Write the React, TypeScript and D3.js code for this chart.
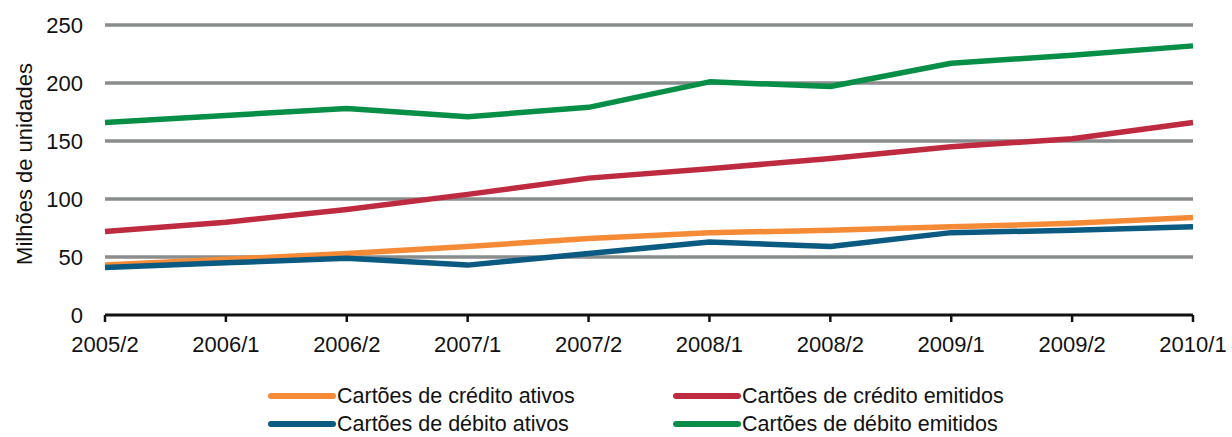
import React, { useEffect, useRef } from "react";
import * as d3 from "d3";

const periods = ["2005/2", "2006/1", "2006/2", "2007/1", "2007/2", "2008/1", "2008/2", "2009/1", "2009/2", "2010/1"];
const yTicks = [0, 50, 100, 150, 200, 250];

const creditoAtivos = [43, 48, 53, 59, 66, 71, 73, 76, 79, 84];
const creditoEmitidos = [72, 80, 91, 104, 118, 126, 135, 145, 152, 166];
const debitoAtivos = [41, 45, 49, 43, 53, 63, 59, 71, 73, 76];
const debitoEmitidos = [166, 172, 178, 171, 179, 201, 197, 217, 224, 232];

const series = [
  { name: "Cartões de crédito ativos", values: creditoAtivos, color: "#f58b37" },
  { name: "Cartões de crédito emitidos", values: creditoEmitidos, color: "#be2b40" },
  { name: "Cartões de débito ativos", values: debitoAtivos, color: "#0a5a82" },
  { name: "Cartões de débito emitidos", values: debitoEmitidos, color: "#078f47" },
];

const App = () => {
  const ref = useRef<SVGSVGElement>(null);

  useEffect(() => {
    const svg = d3.select(ref.current);
    svg.selectAll("*").remove();

    const font = "'Liberation Sans', Arial, sans-serif";
    const left = 105, right = 1193, top = 25, bottom = 315;

    const x = d3.scalePoint().domain(periods).range([left, right]);
    const y = d3.scaleLinear().domain([0, 250]).range([bottom, top]);

    // grid
    svg.append("g")
      .selectAll("line")
      .data(yTicks.filter(d => d > 0))
      .join("line")
      .attr("x1", left)
      .attr("x2", right)
      .attr("y1", d => y(d))
      .attr("y2", d => y(d))
      .attr("stroke", "#8a8d8d")
      .attr("stroke-width", 3.5);

    // y tick labels
    svg.append("g")
      .selectAll("text")
      .data(yTicks)
      .join("text")
      .attr("x", 83)
      .attr("y", d => y(d))
      .attr("dy", "0.36em")
      .attr("text-anchor", "end")
      .style("font-family", font)
      .style("font-size", "22px")
      .attr("fill", "#111")
      .text(d => d);

    // x axis
    const xAxis = svg.append("g");
    xAxis.append("line")
      .attr("x1", left)
      .attr("x2", right)
      .attr("y1", bottom)
      .attr("y2", bottom)
      .attr("stroke", "#111")
      .attr("stroke-width", 3);
    xAxis.selectAll("line.tick")
      .data(periods)
      .join("line")
      .attr("class", "tick")
      .attr("x1", d => x(d))
      .attr("x2", d => x(d))
      .attr("y1", bottom)
      .attr("y2", bottom + 7)
      .attr("stroke", "#111")
      .attr("stroke-width", 2.5);
    xAxis.selectAll("text")
      .data(periods)
      .join("text")
      .attr("x", d => x(d))
      .attr("y", 352)
      .attr("text-anchor", "middle")
      .style("font-family", font)
      .style("font-size", "22px")
      .attr("fill", "#111")
      .text(d => d);

    // y title
    svg.append("text")
      .attr("transform", `translate(32, 164) rotate(-90)`)
      .attr("text-anchor", "middle")
      .style("font-family", font)
      .style("font-size", "22px")
      .attr("fill", "#111")
      .text("Milhões de unidades");

    // lines
    const line = d3.line<number>()
      .x((d, i) => x(periods[i]) as number)
      .y(d => y(d));

    svg.append("g")
      .selectAll("path")
      .data(series)
      .join("path")
      .attr("d", d => line(d.values))
      .attr("fill", "none")
      .attr("stroke", d => d.color)
      .attr("stroke-width", 5.5)
      .attr("stroke-linejoin", "round");

    // legend
    const legendPos = [
      { x: 271, y: 396 },
      { x: 676, y: 396 },
      { x: 271, y: 424 },
      { x: 676, y: 424 },
    ];
    const legend = svg.append("g")
      .selectAll("g")
      .data(series)
      .join("g")
      .attr("transform", (d, i) => `translate(${legendPos[i].x}, ${legendPos[i].y})`);
    legend.append("line")
      .attr("x1", 0)
      .attr("x2", 62)
      .attr("stroke", d => d.color)
      .attr("stroke-width", 6)
      .attr("stroke-linecap", "round");
    legend.append("text")
      .attr("x", 66)
      .attr("dy", "0.34em")
      .style("font-family", font)
      .style("font-size", "21.5px")
      .attr("fill", "#111")
      .text(d => d.name);
  }, []);

  return (
    <svg
      ref={ref}
      width={1232}
      height={437}
      style={{ position: "absolute", left: 0, top: 0, background: "#fff" }}
    />
  );
};

export default App;
